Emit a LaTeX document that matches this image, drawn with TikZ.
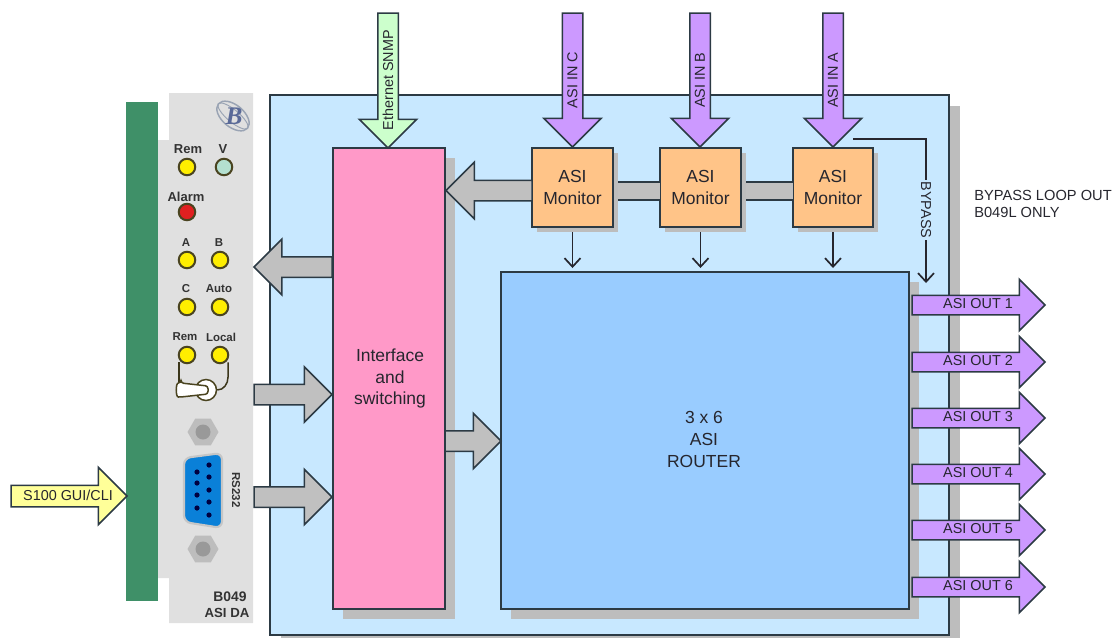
\documentclass[tikz,border=0pt]{standalone}
\usepackage{fontspec}
\setmainfont{Liberation Sans}
\newfontfamily\logofont{Liberation Serif}
\usetikzlibrary{shapes.arrows,shapes.geometric,shadows,calc,arrows.meta}
\definecolor{cardgreen}{HTML}{3F9068}
\definecolor{panelgray}{HTML}{E0E0E0}
\definecolor{backblue}{HTML}{C8E8FF}
\definecolor{routerblue}{HTML}{99CCFF}
\definecolor{pinkbox}{HTML}{FF99C8}
\definecolor{monitorbox}{HTML}{FFC488}
\definecolor{shadowgray}{HTML}{BDBDBD}
\definecolor{purplearrow}{HTML}{CC99FF}
\definecolor{greenarrow}{HTML}{CCFFCC}
\definecolor{yellowarrow}{HTML}{FFFF99}
\definecolor{grayarrow}{HTML}{C0C0C0}
\definecolor{edge}{HTML}{2C3A44}
\definecolor{ink}{HTML}{26262E}
\definecolor{ledyellow}{HTML}{FFEE00}
\definecolor{ledring}{HTML}{4A4420}
\definecolor{ledpale}{HTML}{B4E0D0}
\definecolor{ledred}{HTML}{E02020}
\definecolor{dsub}{HTML}{0A80D8}
\definecolor{logoblue}{HTML}{5A6A98}
\definecolor{logogray}{HTML}{9AA4B4}
\tikzset{
  outline/.style={draw=edge,line width=1.5*0.75pt},
  blockbox/.style={rectangle,outline,inner sep=0pt,outer sep=0pt,align=center,text=ink},
  boxsize/.style 2 args={minimum width=#1*0.75pt,minimum height=#2*0.75pt},
  shadowed/.style={drop shadow={shadow xshift=#1*0.75pt,shadow yshift=-#1*0.75pt,opacity=1,fill=shadowgray,draw=none}},
  blockarrow/.style n args={5}{single arrow,outline,fill=#1,shape border rotate=#2,
    minimum height=#3*0.75pt,
    inner xsep=0pt,inner ysep=#4/2*0.75pt,
    single arrow head extend={(#5-#4)/2*0.75pt},outer sep=0pt,anchor=tip},
  uprightarrow/.style={inner xsep=#1/2*0.75pt,inner ysep=0pt},
  arrowtext/.style={font=\fontsize{10.8}{12}\selectfont,text=ink,inner sep=0pt},
  vtext/.style={arrowtext,rotate=90},
  boxtext/.style={font=\fontsize{13.1}{16.2}\selectfont},
  led/.style={circle,draw=ledring,line width=2*0.75pt,minimum size=16.5*0.75pt,inner sep=0pt,fill=#1},
  bigtag/.style={font=\bfseries\fontsize{9.75}{11}\selectfont,text=black!80,inner sep=0pt},
  smalltag/.style={font=\bfseries\fontsize{8.6}{10}\selectfont,text=black!80,inner sep=0pt},
  flow/.style={draw=ink,line width=1.7*0.75pt,-{Straight Barb[length=6.5pt,width=12pt]}},
  wire/.style={draw=ledring!80!black,line width=1.5*0.75pt},
  screw/.style={regular polygon,regular polygon sides=6,minimum size=31*0.75pt,inner sep=0pt,fill=shadowgray},
  screwhole/.style={circle,minimum size=15*0.75pt,inner sep=0pt,fill=gray!80},
}
\begin{document}
\begin{tikzpicture}[x=0.75pt,y=-0.75pt]
\useasboundingbox (0,0) rectangle (1116,637);
\clip (0,0) rectangle (1116,637);
% card and front panel
\fill[cardgreen] (126,102) rectangle (158,601);
\fill[panelgray] (169,93) -- (253,93) -- (253,623) -- (169,623) -- (169,578) -- (158,578) -- (158,140) -- (169,140) -- cycle;
% main backplate
\node (plate) [blockbox,fill=backblue,boxsize={679}{540},shadowed=11] at (609.5,365) {};
% logo
\draw[logogray,line width=1.1pt,rotate around={-40:(233,116)}] (233,116) ellipse (19 and 11);
\draw[logogray,line width=.7pt,rotate around={-40:(233,116)}] (233,116) ellipse (19 and 6);
\node (logo) [font=\logofont\bfseries\itshape\fontsize{19}{19}\selectfont,text=logoblue,inner sep=0pt] at (234,116) {B};
% LEDs
\node (ledrem)   [led=ledyellow] at (187,167) {};
\node (ledv)     [led=ledpale] at (224,167) {};
\node (ledalarm) [led=ledred] at (187,212) {};
\node (leda)     [led=ledyellow] at (187,260) {};
\node (ledb)     [led=ledyellow] at (220,260) {};
\node (ledc)     [led=ledyellow] at (187,307) {};
\node (ledauto)  [led=ledyellow] at (220,307) {};
\node (ledrem2)  [led=ledyellow] at (187,355) {};
\node (ledlocal) [led=ledyellow] at (220,355) {};
\node (tagrem)   [bigtag] at (188,149) {Rem};
\node (tagv)     [bigtag] at (223,149) {V};
\node (tagalarm) [bigtag] at (186,197) {Alarm};
\node (taga)     [smalltag] at (186,243) {A};
\node (tagb)     [smalltag] at (219,243) {B};
\node (tagc)     [smalltag] at (186,289) {C};
\node (tagauto)  [smalltag] at (219,289) {Auto};
\node (tagrem2)  [smalltag] at (185,337) {Rem};
\node (taglocal) [smalltag] at (221,337) {Local};
% toggle switch
\node (toggle) [circle,draw=ledring,fill=white,line width=1.5*0.75pt,minimum size=21*0.75pt,inner sep=0pt] at (206,390) {};
\draw[wire] (ledlocal.south) ++(8,-2) -- ++(0,15) to[out=270,in=0] (toggle.east);
\draw[wire] (ledrem2.south) ++(-8,-2) -- (179,384);
\draw[draw=ledring,fill=white,line width=1.5*0.75pt,rounded corners=2] (181,383) -- (208,386) -- (208,394) -- (181,397) to[out=180,in=180] cycle;
% screws and D-sub
\node (screwa) [screw] at (203,432) {};
\node (holea) [screwhole] at (203,432) {};
\node (screwb) [screw] at (203,549) {};
\node (holeb) [screwhole] at (203,549) {};
\draw[draw=gray!45,fill=dsub,line width=1.6pt,rounded corners=5] (184,458) -- (222,453) -- (222,528) -- (184,522) -- cycle;
\foreach \py in {472,483,495,508} \fill[black!75!blue] (197,\py) circle (2.6);
\foreach \py in {465,477,490,502,515} \fill[black!75!blue] (209,\py) circle (2.6);
\node (tagrs) [smalltag,rotate=-90] at (236,490) {RS232};
\node (tagb049) [font=\bfseries\fontsize{10.4}{12}\selectfont,text=black!80,inner sep=0pt] at (230,597) {B049};
\node (tagasida) [font=\bfseries\fontsize{9.9}{12}\selectfont,text=black!80,inner sep=0pt] at (227,613) {ASI DA};
% main blocks
\node (pink) [blockbox,fill=pinkbox,boxsize={112}{461},shadowed=10] at (389,378.5) {};
\node (pinktext) [boxtext,align=center,text=ink,inner sep=0pt] at (390,378.5) {Interface\\and\\switching};
\node (router) [blockbox,fill=routerblue,boxsize={408}{337},shadowed=10] at (705,440.5) {};
\node (routertext) [boxtext,align=center,text=ink,inner sep=0pt] at (704,439.5) {3 x 6\\ASI\\ROUTER};
\node (m1) [blockbox,fill=monitorbox,boxsize={81}{79},shadowed=5,boxtext] at (572.5,187.5) {ASI\\Monitor};
\node (m2) [blockbox,fill=monitorbox,boxsize={81}{79},shadowed=5,boxtext] at (700.5,187.5) {ASI\\Monitor};
\node (m3) [blockbox,fill=monitorbox,boxsize={80}{79},shadowed=5,boxtext] at (833,187.5) {ASI\\Monitor};
% monitor to monitor bars
\foreach \a/\b in {m1/m2,m2/m3}{
  \fill[grayarrow] ($(\a.east)+(5,-5.5)$) rectangle ($(\b.west)+(0,12.5)$);
  \draw[edge,line width=1.2*0.75pt] ($(\a.east)+(5,-5.5)$) -- ($(\b.west)+(0,-5.5)$)
    ($(\a.east)+(5,12.5)$) -- ($(\b.west)+(0,12.5)$);
}
% grey block arrows
\node (g1) [blockarrow={grayarrow}{180}{86}{19}{55}] at (446,190.5) {};
\node (g2) [blockarrow={grayarrow}{180}{78}{19}{54}] at (254,267) {};
\node (g3) [blockarrow={grayarrow}{0}{78}{19}{54}] at (332,394.5) {};
\node (g4) [blockarrow={grayarrow}{0}{78}{19}{54}] at (332,497) {};
\node (g5) [blockarrow={grayarrow}{0}{56}{19}{54}] at (501,441) {};
% input arrows
\node (ineth) [blockarrow={greenarrow}{270}{135}{19}{56},uprightarrow=19] at (388,148) {};
\node (inc) [blockarrow={purplearrow}{270}{134}{19}{56},uprightarrow=19] at (572.5,147) {};
\node (inb) [blockarrow={purplearrow}{270}{134}{19}{56},uprightarrow=19] at (700,147) {};
\node (ina) [blockarrow={purplearrow}{270}{134}{19}{56},uprightarrow=19] at (833,147) {};
\node (ltxeth) [vtext] at (388,80) {Ethernet SNMP};
\node (ltxc) [vtext] at (572.5,80) {ASI IN C};
\node (ltxb) [vtext] at (700,80) {ASI IN B};
\node (ltxa) [vtext] at (833,80) {ASI IN A};
\node (s100) [blockarrow={yellowarrow}{0}{116}{20}{56}] at (127,496) {};
\node (ltxs) [arrowtext] at (68,495) {S100 GUI/CLI};
% monitor to router
\draw[flow,shorten <=5*0.75pt,shorten >=4*0.75pt] (m1.south) -- (m1.south |- router.north);
\draw[flow,shorten <=5*0.75pt,shorten >=4*0.75pt] (m2.south) -- (m2.south |- router.north);
\draw[flow,shorten <=5*0.75pt,shorten >=4*0.75pt] (m3.south) -- (m3.south |- router.north);
% bypass
\coordinate (bypassstart) at (853,139);
\coordinate (bypassend) at (926,283);
\draw[flow] (bypassstart) -| (bypassend);
\node (bypass) [arrowtext,rotate=-90,fill=backblue,inner xsep=1pt,inner ysep=1pt] at (926,210) {BYPASS};
% output arrows
\foreach \i/\yy in {1/305,2/362,3/418,4/474,5/530,6/587}{
  \node (out\i) [blockarrow={purplearrow}{0}{133}{18}{50}] at (1045,\yy) {};
  \node (ltxout\i) [arrowtext] at (978,\yy-1) {ASI OUT \i};
}
% note
\node (note) [font=\fontsize{11}{13}\selectfont,text=ink,align=left,anchor=west,inner sep=0pt] at (974,204) {BYPASS LOOP OUT\\B049L ONLY};
\end{tikzpicture}
\end{document}
